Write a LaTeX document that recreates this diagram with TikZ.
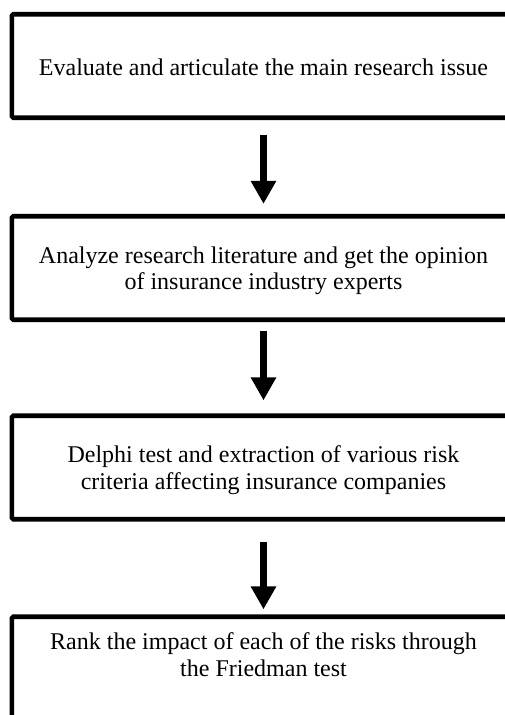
\documentclass[tikz,border=0pt]{standalone}
\usepackage{fontspec}
\setmainfont{Liberation Serif}
\usetikzlibrary{arrows.meta}
\begin{document}
\begin{tikzpicture}[x=1pt,y=1pt,
  stepbox/.style={draw, line width=4.7pt, rounded corners=1.5pt,
    minimum width=503.3pt, minimum height=103.5pt, inner sep=0pt,
    align=center, font=\fontsize{24}{26.5}\selectfont},
  flow/.style={line width=7pt, -{Triangle[width=24pt,length=23pt]}}]
\useasboundingbox (0,0) rectangle (505,-715);
\begin{scope}
\clip (0,0) rectangle (505,-715);
\node[stepbox] (b1) at (263.5,-66) {\rule{0pt}{20pt}Evaluate and articulate the main research issue};
\node[stepbox] (b2) at (263.5,-268) {\rule{0pt}{22.5pt}Analyze research literature and get the opinion\\of insurance industry experts};
\node[stepbox] (b3) at (263.5,-467.5) {\rule{0pt}{22.5pt}Delphi test and extraction of various risk\\criteria affecting insurance companies};
\node[stepbox] (b4) at (263.5,-668.5) {Rank the impact of each of the risks through\\the Friedman test\rule[-28pt]{0pt}{0pt}};
\draw[flow] ([yshift=-15pt]b1.south) -- ([yshift=10pt]b2.north);
\draw[flow] ([yshift=-9pt]b2.south) -- ([yshift=13pt]b3.north);
\draw[flow] ([yshift=-20pt]b3.south) -- ([yshift=5pt]b4.north);
\end{scope}
\end{tikzpicture}
\end{document}
